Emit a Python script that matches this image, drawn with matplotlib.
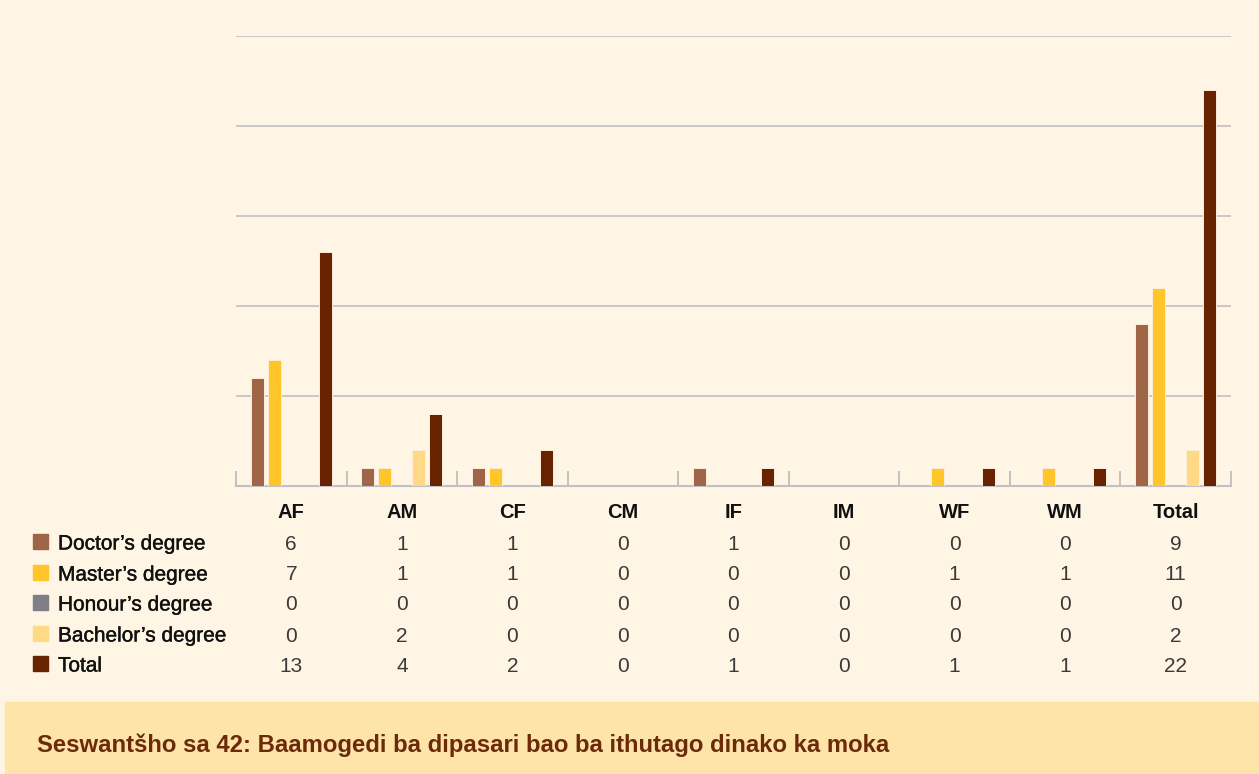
import matplotlib.pyplot as plt
import matplotlib.transforms as mtransforms
import matplotlib.patheffects as pe
from matplotlib.patches import Rectangle
import numpy as np

plt.rcParams['font.family'] = ['Liberation Sans', 'DejaVu Sans']

categories = ['AF', 'AM', 'CF', 'CM', 'IF', 'IM', 'WF', 'WM', 'Total']
series_names = ["Doctor’s degree", "Master’s degree", "Honour’s degree",
                "Bachelor’s degree", "Total"]
doctor = [6, 1, 1, 0, 1, 0, 0, 0, 9]
master = [7, 1, 1, 0, 0, 0, 1, 1, 11]
honour = [0, 0, 0, 0, 0, 0, 0, 0, 0]
bachelor = [0, 2, 0, 0, 0, 0, 0, 0, 2]
total = [13, 4, 2, 0, 1, 0, 1, 1, 22]
series = [doctor, master, honour, bachelor, total]
colors = ['#9e6646', '#ffc529', '#7f7f89', '#ffd986', '#692300']
caption = 'Seswantšho sa 42: Baamogedi ba dipasari bao ba ithutago dinako ka moka'

W, H = 1259, 774
bg = '#fef5e5'
fig = plt.figure(figsize=(W / 100, H / 100), dpi=100, facecolor=bg)

# plot area in pixel terms
left, right, top, base = 236, 1231, 36, 486
ax = fig.add_axes([left / W, (H - base) / H, (right - left) / W, (base - top) / H])
ax.set_facecolor(bg)

x = np.arange(len(categories))
pitch = 0.154
width = 0.118
for i, (vals, col) in enumerate(zip(series, colors)):
    ax.bar(x + (i - 2) * pitch, vals, width=width, color=col,
           edgecolor='#fdeedb', linewidth=0.7, zorder=3)

ax.set_xlim(-0.5, len(categories) - 0.5)
ax.set_ylim(0, 25)
ax.set_yticks([5, 10, 15, 20, 25])
ax.yaxis.grid(True, color='#c0c0c6', linewidth=1.2, zorder=0)
ax.tick_params(axis='y', left=False, labelleft=False)
ax.set_xticks(np.arange(len(categories) + 1) - 0.5)
ax.tick_params(axis='x', direction='in', length=11, width=1.2,
               color='#b8b8c0', labelbottom=False)
for s in ['top', 'right', 'left']:
    ax.spines[s].set_visible(False)
ax.spines['bottom'].set_color('#c0c0c6')
ax.spines['bottom'].set_linewidth(1.5)

# data table under the bars
tr = mtransforms.blended_transform_factory(ax.transData, fig.transFigure)
def fy(py):
    return 1 - py / H

heavy = [pe.withStroke(linewidth=0.3, foreground='#111111')]

for xi, cat in zip(x, categories):
    fig.text(xi, fy(513), cat, transform=tr, ha='center', va='center',
             fontsize=14.5, fontweight='bold', color='#111111')

row_y = [542, 573, 603, 634, 664]
for name, vals, col, py in zip(series_names, series, colors, row_y):
    fig.patches.append(Rectangle((33 / W, fy(py + 7)), 15 / W, 15 / H,
                                 transform=fig.transFigure, color=col))
    fig.text(58 / W, fy(py + 2), name, ha='left', va='center',
             fontsize=15, color='#111111', path_effects=heavy)
    for xi, v in zip(x, vals):
        fig.text(xi, fy(py + 2), str(v), transform=tr, ha='center', va='center',
                 fontsize=15, color='#3a3a3a')

# caption band
fig.patches.append(Rectangle((5 / W, 0), 1, (H - 702) / H,
                             transform=fig.transFigure, color='#fee4a9'))
fig.text(37 / W, fy(745), caption, ha='left', va='center', fontsize=17.2,
         fontweight='bold', color='#6b2a0a')

fig.savefig('out.png', dpi=100, facecolor=bg)
